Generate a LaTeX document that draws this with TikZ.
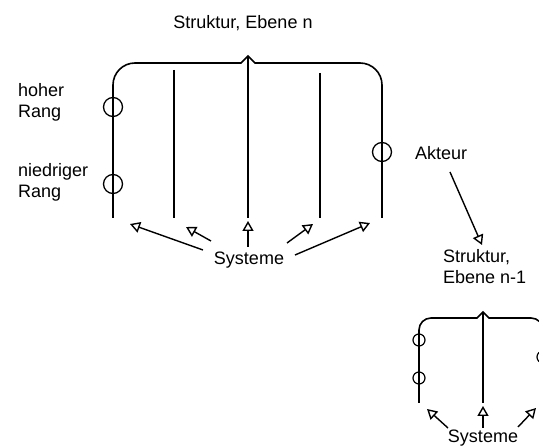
\documentclass[tikz,border=0pt]{standalone}
\usepackage{fontspec}
\setmainfont{Liberation Sans}
\usetikzlibrary{arrows.meta,positioning}
\tikzset{
  rang/.style={circle,draw,line width=1.3pt,inner sep=0pt,minimum size=19pt},
  kleinrang/.style={circle,draw,line width=1.2pt,inner sep=0pt,minimum size=12pt},
  pfeil/.style={line width=1.4pt,-{Triangle[open,length=10pt,width=11pt]}},
  sys/.style={line width=1.6pt},
  txt/.style={inner sep=0pt,font=\fontsize{18}{21}\selectfont},
}
\begin{document}
\begin{tikzpicture}[x=1pt,y=-1pt]
  \useasboundingbox (0,0) rectangle (539,446);
  \clip (0,0) rectangle (539,446);
  % Struktur, Ebene n
  \node[txt] (titel) at (243,23) {Struktur, Ebene n};
  \draw[sys,rounded corners=22] (113,218) -- (113,63) -- (200,63)
    [sharp corners] -- (241,63) -- (248,56) -- (255,63) -- (300,63)
    [rounded corners=22] -- (382,63) -- (382,218);
  \draw[sys] (174,70) -- (174,218);
  \draw[sys] (248,56) -- (248,218);
  \draw[sys] (320,73) -- (320,218);
  \node[rang] (hoch) at (113,107) {};
  \node[rang] (nieder) at (113,184) {};
  \node[rang] (akt) at (382,152) {};
  \node[txt,anchor=west,align=left] (hochL) at (18,102) {hoher\\Rang};
  \node[txt,anchor=west,align=left] (niederL) at (18,182) {niedriger\\Rang};
  \node[txt,anchor=west] (akteur) at (415,153) {Akteur};
  % Systeme
  \node[txt] (sys) at (249,260) {Systeme};
  \coordinate (s1) at (203,250); \coordinate (z1) at (130,224);
  \coordinate (s2) at (211,241); \coordinate (z2) at (186,227);
  \coordinate (s3) at (248,247); \coordinate (z3) at (248,221);
  \coordinate (s4) at (287,243); \coordinate (z4) at (313,224);
  \coordinate (s5) at (295,255); \coordinate (z5) at (370,223);
  \foreach \i in {1,...,5} \draw[pfeil] (s\i) -- (z\i);
  % Akteur -> Ebene n-1
  \coordinate (a1) at (450,172); \coordinate (a2) at (482,245);
  \draw[pfeil] (a1) -- (a2);
  \node[txt,anchor=north west,align=left] (titel2) at (443,249) {Struktur,\\Ebene n-1};
  % Struktur, Ebene n-1
  \draw[sys,rounded corners=12] (419,403) -- (419,318) -- (450,318)
    [sharp corners] -- (477,318) -- (483,312) -- (489,318) -- (510,318)
    [rounded corners=12] -- (543,318) -- (543,403);
  \draw[sys] (483,312) -- (483,403);
  \node[kleinrang] (k1) at (419,340) {};
  \node[kleinrang] (k2) at (419,378) {};
  \node[kleinrang] (k3) at (543,357) {};
  \node[txt] (sys2) at (483,438) {Systeme};
  \coordinate (t1) at (448,428); \coordinate (u1) at (427,409);
  \coordinate (t2) at (483,428); \coordinate (u2) at (483,406);
  \coordinate (t3) at (518,427); \coordinate (u3) at (536,408);
  \foreach \i in {1,2,3} \draw[pfeil] (t\i) -- (u\i);
\end{tikzpicture}
\end{document}
